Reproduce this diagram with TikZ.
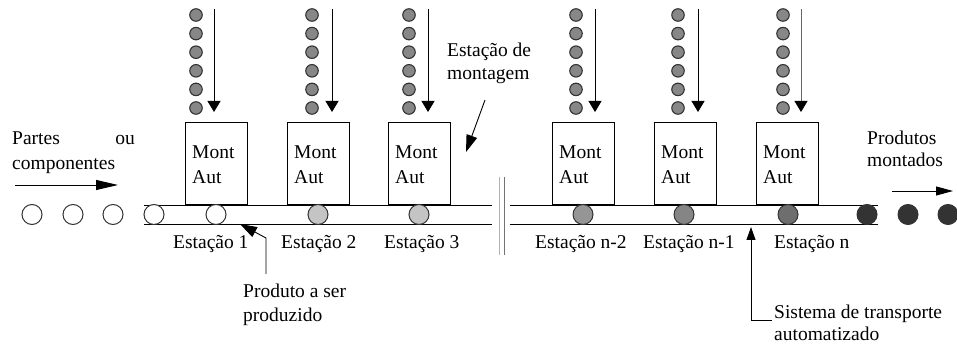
\documentclass[tikz,border=0pt]{standalone}
\usepackage{fontspec}
\setmainfont{Liberation Serif}
\usetikzlibrary{arrows.meta,calc}
\definecolor{dotgray}{HTML}{878787}
\definecolor{dotedge}{HTML}{333333}
\definecolor{light}{HTML}{C4C4C4}
\definecolor{mid1}{HTML}{959595}
\definecolor{mid2}{HTML}{858585}
\definecolor{mid3}{HTML}{6E6E6E}
\definecolor{darkp}{HTML}{333333}
\tikzset{
  txt/.style={inner sep=0pt, font=\fontsize{19.5}{24}\selectfont, anchor=base west},
  boxtxt/.style={inner sep=0pt, font=\fontsize{19.5}{25}\selectfont, align=left, anchor=north west},
  stbox/.style={draw, line width=0.8pt, minimum width=62pt, minimum height=82pt, inner sep=0pt},
  feeddot/.style={circle, draw=dotedge, fill=dotgray, line width=1.1pt, minimum size=12.5pt, inner sep=0pt},
  part/.style={circle, draw=dotedge, line width=1pt, minimum size=20pt, inner sep=0pt},
  belt/.style={line width=0.9pt},
  feedarrow/.style={line width=0.9pt, -{Triangle[length=11pt,width=13pt,fill=black,color=black]}},
  bigarrow/.style={line width=0.9pt, -{Triangle[length=22pt,width=10pt]}},
  ptrarrow/.style={line width=0.9pt, -{Triangle[length=17pt,width=11pt]}},
}
\begin{document}
\begin{tikzpicture}[x=1pt,y=-1pt]
\useasboundingbox (0,0) rectangle (957,344);
% conveyor
\coordinate (lt1) at (144,205); \coordinate (lt2) at (492,205);
\coordinate (lb1) at (144,224); \coordinate (lb2) at (492,224);
\coordinate (rt1) at (510,205); \coordinate (rt2) at (878,205);
\coordinate (rb1) at (510,224); \coordinate (rb2) at (878,224);
\draw[belt] (lt1) -- (lt2); \draw[belt] (lb1) -- (lb2);
\draw[belt] (rt1) -- (rt2); \draw[belt] (rb1) -- (rb2);
% break marks
\coordinate (k1a) at (499,177); \coordinate (k1b) at (499,255);
\coordinate (k2a) at (504,177); \coordinate (k2b) at (504,255);
\draw[line width=1pt, gray!60] (k1a) -- (k1b);
\draw[line width=1pt, gray!90!black] (k2a) -- (k2b);
% stations
\foreach \n/\xl/\dx/\ax/\ac in {s1/185/196/214/black, s2/287/312/332/black, s3/388/409/428/black, s4/552/576/595/black, s5/654/678/698/black, s6/756/783/801/gray!80!black}{
  \node[stbox, anchor=south west] (\n) at (\xl,205) {};
  \node[boxtxt] (\n t) at ($(\n.north west)+(7,23)$) {Mont\\Aut};
  \foreach \i in {0,...,5}{
    \node[feeddot] (\n d\i) at (\dx,{15+18.6*\i}) {};
  }
  \coordinate (\n a) at (\ax,9);
  \coordinate (\n b) at (\ax,112);
  \draw[feedarrow, draw=\ac] (\n a) -- (\n b);
}
% parts
\foreach \x/\c [count=\k] in {32/white,73/white,113/white,154/white,216/white,318/light,419/light,583/mid1,684/mid2,788/mid3}{
  \node[part, fill=\c] (p\k) at (\x,214.5) {};
}
\foreach \x [count=\k] in {867,908,948}{
  \node[part, fill=darkp, draw=darkp] (f\k) at (\x,214.5) {};
}
% labels
\node[txt] (partes) at (12,145) {Partes};
\node[txt, anchor=base east] (ou) at (135,145) {ou};
\node[txt] (comp) at (12,170) {componentes};
\coordinate (ina) at (15,185); \coordinate (inb) at (118,185);
\draw[bigarrow] (ina) -- (inb);

\node[txt] (prod1) at (867,145) {Produtos};
\node[txt] (prod2) at (867,167) {montados};
\coordinate (outa) at (892,191); \coordinate (outb) at (953,191);
\draw[line width=0.9pt, -{Triangle[length=17pt,width=9pt]}] (outa) -- (outb);

\node[txt] (em1) at (447,57) {Estação de};
\node[txt] (em2) at (447,80) {montagem};
\coordinate (ema) at (485,100); \coordinate (emb) at (466,152);
\draw[ptrarrow] (ema) -- (emb);

\node[txt] (e1) at (173,249) {Estação 1};
\node[txt] (e2) at (281,249) {Estação 2};
\node[txt] (e3) at (384,249) {Estação 3};
\node[txt] (e4) at (535,249) {Estação n-2};
\node[txt] (e5) at (643,249) {Estação n-1};
\node[txt] (e6) at (774,249) {Estação n};

\node[txt] (pa1) at (243,298) {Produto a ser};
\node[txt] (pa2) at (243,321) {produzido};
\coordinate (paa) at (266,274); \coordinate (pab) at (266,238); \coordinate (pac) at (240,224);
\draw[ptrarrow] (paa) -- (pab) -- (pac);

\node[txt] (st1) at (774,318) {Sistema de transporte};
\node[txt] (st2) at (774,340) {automatizado};
\coordinate (sta) at (772,320); \coordinate (stb) at (751,320); \coordinate (stc) at (751,227);
\draw[line width=0.9pt, -{Triangle[length=13pt,width=9pt]}] (sta) -- (stb) -- (stc);
\end{tikzpicture}
\end{document}
